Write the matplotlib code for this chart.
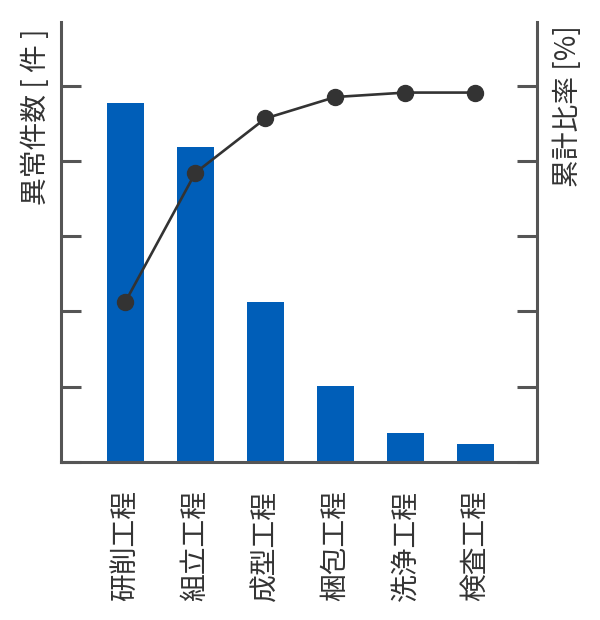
import matplotlib
matplotlib.use("Agg")
import matplotlib.pyplot as plt
import numpy as np

plt.rcParams['font.family'] = ['Noto Sans CJK JP', 'DejaVu Sans']

processes = ['研削工程', '組立工程', '成型工程', '梱包工程', '洗浄工程', '検査工程']
counts = [95.4, 83.7, 42.5, 20.2, 7.7, 4.8]
cum_ratio = [43.4, 78.3, 93.0, 98.8, 100.0, 100.0]
count_ticks = [0, 20, 40, 60, 80, 100]

spine_col = '#555555'
text_col = '#333333'
bar_col = '#005EB8'

fig = plt.figure(figsize=(6, 6.2), dpi=100)
ax = fig.add_axes([0.1017, 0.2548, 0.7933, 0.7097])
ax2 = ax.twinx()

x = np.arange(len(processes))
ax.bar(x, counts, width=0.53, color=bar_col, zorder=1)
ax.set_xlim(-0.92, 5.88)
ax.set_ylim(0, 116.9)
ax.set_yticks(count_ticks)
ax.set_yticklabels([])

ax2.plot(x, cum_ratio, '-o', color=text_col, lw=1.9, ms=11.5)
ax2.set_ylim(0, 119.1)
ax2.set_yticks(np.array(count_ticks) / 116.9 * 119.1)
ax2.set_yticklabels([])

for a in (ax, ax2):
    a.spines['top'].set_visible(False)
    for s in a.spines.values():
        s.set_color(spine_col)
        s.set_linewidth(2.2)
ax.spines['right'].set_visible(False)
ax2.spines['left'].set_visible(False)
ax2.spines['bottom'].set_visible(False)

ax.tick_params(axis='y', direction='in', length=14.4, width=2.2, color=spine_col)
ax2.tick_params(axis='y', direction='in', length=14.4, width=2.2, color=spine_col)
ax.set_xticks(x)
ax.set_xticklabels(processes, rotation=90, fontsize=20, color=text_col)
ax.tick_params(axis='x', length=0, pad=20)

ax.set_ylabel('異常件数 [ 件 ]', fontsize=20, color=text_col, ha='right')
ax.yaxis.set_label_coords(-0.021, 0.984)
ax2.set_ylabel('累計比率 [%]', fontsize=20, color=text_col, ha='right')
ax2.yaxis.set_label_coords(1.033, 0.993)

fig.savefig('out.png', dpi=100)
